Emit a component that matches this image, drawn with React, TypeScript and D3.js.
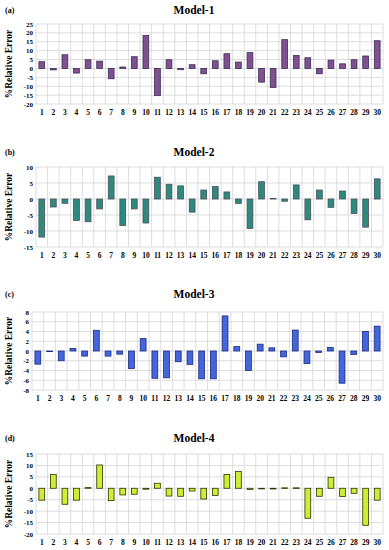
import React from 'react';
import * as d3 from 'd3';

const samples = d3.range(1, 31).map(String);

const model1 = [3.8, -0.8, 7.7, -2.6, 4.9, 4.1, -5.8, 0.8, 6.6, 18.6, -15.3, 4.9, -0.7, 2.1, -3.0, 4.3, 8.3, 3.6, 8.9, -7.7, -10.7, 16.2, 7.3, 6.0, -3.0, 4.7, 2.6, 4.9, 7.0, 15.6];
const model2 = [-11.9, -2.5, -1.35, -6.7, -7.1, -3.1, 7.2, -8.3, -3.1, -7.5, 6.8, 4.6, 4.1, -4.1, 2.8, 3.9, 2.2, -1.35, -9.2, 5.4, 0.2, -0.7, 4.4, -6.5, 2.8, -2.6, 2.5, -4.5, -8.8, 6.3];
const model3 = [-2.7, -0.1, -2.0, 0.5, -1.05, 4.25, -1.05, -0.65, -3.6, 2.55, -5.6, -5.5, -2.2, -2.75, -5.7, -5.7, 7.2, 0.9, -4.0, 1.4, 0.65, -1.2, 4.3, -2.6, -0.3, 0.7, -6.6, -0.7, 4.0, 5.1];
const model4 = [-5.2, 6.0, -7.0, -5.2, 0.3, 10.2, -5.4, -2.9, -2.6, -0.4, 2.2, -3.4, -3.5, -1.2, -4.7, -3.1, 6.0, 7.4, -0.5, -0.2, -0.3, 0.2, 0.2, -13.1, -3.5, 4.8, -3.6, -2.2, -16.2, -5.2];

const titles = ['Model-1', 'Model-2', 'Model-3', 'Model-4'];
const panelLabels = ['(a)', '(b)', '(c)', '(d)'];
const domains: [number, number][] = [[-20, 25], [-15, 10], [-8, 8], [-20, 15]];
const tickSteps = [5, 5, 2, 5];

const FONT = '"Liberation Serif", "Times New Roman", serif';

interface PanelProps {
  title: string;
  label: string;
  values: number[];
  domain: [number, number];
  step: number;
  top: number;
  bottom: number;
  titleY: number;
  left: number;
  fill: string;
  stroke: string;
}

const Panel: React.FC<PanelProps> = ({ title, label, values, domain, step, top, bottom, titleY, left, fill, stroke }) => {
  const right = 383;
  const x = d3.scaleBand<string>().domain(samples).range([left, right]).paddingInner(0.5).paddingOuter(0.25);
  const y = d3.scaleLinear().domain(domain).range([bottom, top]);
  const ticks = d3.range(domain[0], domain[1] + step / 2, step);
  const st = x.step();

  return (
    <g>
      <text x={5} y={titleY} fontSize={8} fontWeight="bold" fontFamily={FONT}>{label}</text>
      <text x={194} y={titleY + 1} fontSize={11.5} fontWeight="bold" fontFamily={FONT} textAnchor="middle">{title}</text>

      {/* grid */}
      {ticks.map(t => (
        <line key={'h' + t} x1={left} x2={right} y1={y(t)} y2={y(t)} stroke="#d4d4d4" strokeWidth={0.8} />
      ))}
      {d3.range(0, 31).map(i => (
        <line key={'v' + i} x1={left + i * st} x2={left + i * st} y1={top} y2={bottom} stroke="#d4d4d4" strokeWidth={0.8} />
      ))}

      {/* y ticks */}
      {ticks.map(t => (
        <text key={'t' + t} x={left - 3} y={y(t) + 2.5} fontSize={7} fontWeight="bold" fontFamily={FONT} textAnchor="end">{t}</text>
      ))}
      <text transform={`translate(12,${(top + bottom) / 2}) rotate(-90)`} fontSize={9.5} fontWeight="bold" fontFamily={FONT} textAnchor="middle">%Relative Error</text>

      {/* bars */}
      {values.map((v, i) => (
        <rect key={'b' + i} x={x(samples[i])!} width={x.bandwidth()}
          y={y(Math.max(0, v))} height={Math.max(0.6, Math.abs(y(v) - y(0)))}
          fill={fill} stroke={stroke} strokeWidth={0.8} />
      ))}

      {/* x labels */}
      {samples.map(s => (
        <text key={'x' + s} x={x(s)! + x.bandwidth() / 2} y={bottom + 11} fontSize={7.5} fontWeight="bold" fontFamily={FONT} textAnchor="middle">{s}</text>
      ))}
    </g>
  );
};

const App: React.FC = () => {
  const layout = [
    { top: 24, bottom: 104, titleY: 13, left: 36, fill: '#80508f', stroke: '#3a2d58' },
    { top: 167, bottom: 247, titleY: 155, left: 36, fill: '#2f8a7e', stroke: '#4a4f5c' },
    { top: 312, bottom: 390, titleY: 297, left: 32, fill: '#4466dd', stroke: '#1c2a80' },
    { top: 454, bottom: 534, titleY: 441, left: 36, fill: '#ccee33', stroke: '#2f3300' },
  ];
  const data = [model1, model2, model3, model4];

  return (
    <svg width={389} height={550} style={{ position: 'absolute', left: 0, top: 0, background: '#fff' }}>
      <rect width={389} height={550} fill="#fff" />
      {layout.map((l, k) => (
        <Panel key={k} title={titles[k]} label={panelLabels[k]} values={data[k]} domain={domains[k]}
          step={tickSteps[k]} {...l} />
      ))}
    </svg>
  );
};

export default App;
